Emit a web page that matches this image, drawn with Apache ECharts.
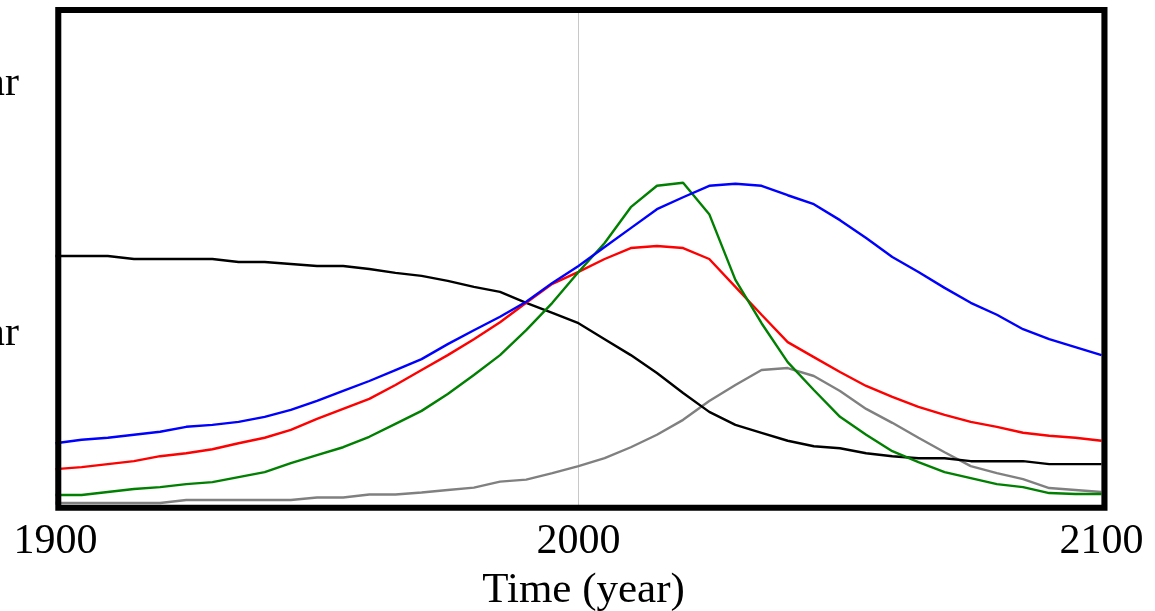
<!DOCTYPE html>
<html>
<head>
<meta charset="utf-8">
<script src="https://cdn.jsdelivr.net/npm/echarts@6/dist/echarts.min.js"></script>
<style>
html,body{margin:0;padding:0;background:#fff;}
#chart{width:1155px;height:611px;}
</style>
</head>
<body>
<div id="chart"></div>
<script>
// Years 1900..2100, 5-year steps
var years = [1900,1905,1910,1915,1920,1925,1930,1935,1940,1945,1950,1955,1960,1965,1970,1975,1980,1985,1990,1995,2000,2005,2010,2015,2020,2025,2030,2035,2040,2045,2050,2055,2060,2065,2070,2075,2080,2085,2090,2095,2100];
var xTicks = [1900, 2000, 2100];
var xTitle = 'Time (year)';
var sideLabels = ['ar', 'ar'];

var blackSeries = [50.0,50.0,50.0,49.4,49.4,49.4,49.4,48.8,48.8,48.4,48.0,48.0,47.4,46.6,46.0,45.0,43.8,42.8,40.6,38.6,36.5,33.3,30.1,26.5,22.5,18.7,16.1,14.5,12.9,11.8,11.4,10.4,9.8,9.4,9.4,8.8,8.8,8.8,8.2,8.2,8.2];
var blueSeries = [12.4,13.1,13.5,14.1,14.7,15.7,16.1,16.7,17.7,19.1,20.9,22.9,24.9,27.1,29.3,32.3,35.1,37.8,40.8,44.6,48.0,51.8,55.6,59.4,61.8,64.1,64.5,64.1,62.2,60.4,57.2,53.6,49.8,46.8,43.6,40.6,38.2,35.3,33.3,31.7,30.1];
var redSeries = [7.2,7.6,8.2,8.8,9.8,10.4,11.2,12.4,13.5,15.1,17.3,19.3,21.3,24.1,27.1,30.1,33.3,36.7,40.6,44.4,46.8,49.4,51.6,52.0,51.6,49.4,43.8,38.2,32.7,29.7,26.7,23.9,21.7,19.7,18.1,16.7,15.7,14.5,13.9,13.5,12.9];
var greenSeries = [2.0,2.0,2.6,3.2,3.6,4.2,4.6,5.6,6.6,8.4,10.0,11.6,13.7,16.3,18.9,22.3,26.1,30.1,35.1,40.6,46.8,52.6,59.8,64.1,64.7,58.4,45.2,36.5,28.7,23.1,17.7,14.1,10.8,8.6,6.6,5.4,4.2,3.6,2.4,2.2,2.2];
var graySeries = [0.4,0.4,0.4,0.4,0.4,1.0,1.0,1.0,1.0,1.0,1.5,1.5,2.1,2.1,2.5,3.0,3.5,4.7,5.1,6.4,7.8,9.4,11.6,14.1,17.1,20.9,24.1,27.1,27.5,25.9,22.9,19.3,16.5,13.5,10.6,7.8,6.4,5.2,3.4,3.0,2.6];

function pairs(arr){ return years.map(function(y,i){ return [y, arr[i]]; }); }

var serifFont = '"Liberation Serif", "DejaVu Serif", serif';
var chart = echarts.init(document.getElementById('chart'), null, {renderer:'canvas'});

function mkLine(name, data, color, z){
  return {
    name: name, type: 'line', data: pairs(data), symbol: 'none',
    lineStyle: {color: color, width: 2.4}, itemStyle: {color: color},
    z: z, animation: false, clip: true
  };
}

chart.setOption({
  animation: false,
  backgroundColor: '#ffffff',
  grid: {left: 55.5, top: 7, width: 1046, height: 498, show: false, containLabel: false, outerBoundsMode: 'none'},
  xAxis: {
    type: 'value', min: 1900, max: 2100, interval: 100,
    name: xTitle, nameLocation: 'middle', nameGap: 64,
    nameTextStyle: {fontFamily: serifFont, fontSize: 43, color: '#000', padding: [0,0,0,10]},
    axisLine: {show: false}, axisTick: {show: false},
    axisLabel: {show: true, margin: 16, fontFamily: serifFont, fontSize: 42, color: '#000',
      formatter: function(v){ return xTicks.indexOf(v) >= 0 ? String(v) : ''; }},
    splitLine: {show: true, lineStyle: {color: '#c8c8c8', width: 1}}
  },
  yAxis: {
    type: 'value', min: 0, max: 100,
    axisLine: {show: false}, axisTick: {show: false}, axisLabel: {show: false},
    splitLine: {show: false}
  },
  series: [
    mkLine('gray', graySeries, '#808080', 2),
    mkLine('black', blackSeries, '#000000', 3),
    mkLine('red', redSeries, '#ff0000', 4),
    mkLine('green', greenSeries, '#008000', 5),
    mkLine('blue', blueSeries, '#0000ff', 6)
  ],
  graphic: [
    {type: 'rect', z: 100, silent: true,
      shape: {x: 58.3, y: 10, width: 1046.2, height: 497.8},
      style: {fill: null, stroke: '#000', lineWidth: 6}},
    {type: 'text', z: 100, silent: true, x: 19, y: 84,
      style: {text: sideLabels[0], font: '42px ' + serifFont, fill: '#000', align: 'right', verticalAlign: 'middle'}},
    {type: 'text', z: 100, silent: true, x: 19, y: 334,
      style: {text: sideLabels[1], font: '42px ' + serifFont, fill: '#000', align: 'right', verticalAlign: 'middle'}}
  ]
});
</script>
</body>
</html>
